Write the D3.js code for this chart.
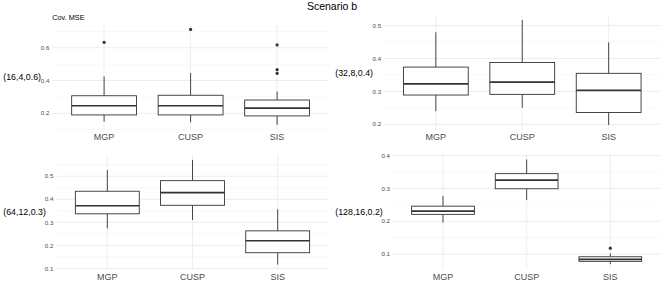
<!DOCTYPE html>
<html>
<head>
<meta charset="utf-8">
<script src="https://cdn.jsdelivr.net/npm/d3@7"></script>
<style>
  html, body { margin: 0; padding: 0; background: #ffffff; }
  svg { display: block; font-family: "Liberation Sans", Arial, Helvetica, sans-serif; }
</style>
</head>
<body>
<svg id="chart" width="664" height="291"></svg>
<script>
// ---------------- data ----------------
const chartTitle = "Scenario b";
const metricLabel = "Cov. MSE";
const methods = ["MGP", "CUSP", "SIS"];
const scenarios = ["(16,4,0.6)", "(32,8,0.4)", "(64,12,0.3)", "(128,16,0.2)"];

// per scenario, per method: [MGP, CUSP, SIS]
const whiskerLow  = [[0.149, 0.145, 0.129], [0.240, 0.250, 0.198], [0.274, 0.310, 0.117], [0.196, 0.265, 0.070]];
const quartile1   = [[0.190, 0.190, 0.184], [0.289, 0.291, 0.236], [0.337, 0.374, 0.168], [0.221, 0.299, 0.078]];
const medians     = [[0.246, 0.246, 0.232], [0.323, 0.328, 0.303], [0.372, 0.429, 0.220], [0.231, 0.325, 0.084]];
const quartile3   = [[0.307, 0.310, 0.281], [0.374, 0.388, 0.355], [0.435, 0.481, 0.263], [0.246, 0.345, 0.092]];
const whiskerHigh = [[0.425, 0.446, 0.332], [0.480, 0.517, 0.449], [0.527, 0.571, 0.357], [0.277, 0.388, 0.102]];
const outliers    = [
  [[0.633], [0.712], [0.617, 0.466, 0.444]],
  [[], [], []],
  [[], [], []],
  [[], [], [0.118]]
];
const yTicks = [[0.2, 0.4, 0.6], [0.2, 0.3, 0.4, 0.5], [0.1, 0.2, 0.3, 0.4, 0.5], [0.1, 0.2, 0.3, 0.4]];

// ---------------- layout (styling only) ----------------
const panels = [
  { left: 52.2,  right: 329.0, top: 24.6,  bottom: 129.7, labelX: 3.3,   catY: 140 },
  { left: 384.0, right: 660.5, top: 14.8,  bottom: 130.2, labelX: 335.3, catY: 140 },
  { left: 56.2,  right: 328.8, top: 154.7, bottom: 269.7, labelX: 3.3,   catY: 280 },
  { left: 392.8, right: 660.5, top: 154.3, bottom: 269.2, labelX: 335.3, catY: 280 }
];
const boxColor = "#333333";
const gridMajor = "#ebebeb";
const gridMinor = "#f4f4f4";
const textGrey = "#4d4d4d";

const svg = d3.select("#chart");

svg.append("text")
  .attr("x", 332).attr("y", 9.8)
  .attr("text-anchor", "middle")
  .attr("font-size", 10.5)
  .attr("fill", "#000")
  .text(chartTitle);

svg.append("text")
  .attr("x", 52.3).attr("y", 20.3)
  .attr("font-size", 7.3)
  .attr("fill", "#000")
  .text(metricLabel);

scenarios.forEach((scen, s) => {
  const p = panels[s];
  const g = svg.append("g");

  // y domain with 5% expansion, as in ggplot
  const allVals = [].concat(whiskerLow[s], whiskerHigh[s], ...outliers[s]);
  const lo = d3.min(allVals), hi = d3.max(allVals);
  const pad = (hi - lo) * 0.05;
  const y = d3.scaleLinear().domain([lo - pad, hi + pad]).range([p.bottom, p.top]);

  // discrete x with 0.6 expansion on each side
  const x = d3.scaleLinear().domain([0.4, methods.length + 0.6]).range([p.left, p.right]);
  const xc = i => x(i + 1);
  const unit = x(2) - x(1);
  const boxW = unit * 0.75;

  // minor grid
  const ticks = yTicks[s];
  const step = ticks[1] - ticks[0];
  const minor = [];
  for (let t = ticks[0] - step / 2; t <= hi + pad + 1e-9; t += step) {
    if (t >= lo - pad - 1e-9) minor.push(t);
  }
  g.selectAll(".minor").data(minor).enter().append("line")
    .attr("x1", p.left).attr("x2", p.right)
    .attr("y1", d => y(d)).attr("y2", d => y(d))
    .attr("stroke", gridMinor).attr("stroke-width", 0.6);

  // major grid (y)
  g.selectAll(".major").data(ticks).enter().append("line")
    .attr("x1", p.left).attr("x2", p.right)
    .attr("y1", d => y(d)).attr("y2", d => y(d))
    .attr("stroke", gridMajor).attr("stroke-width", 0.9);

  // major grid (x)
  g.selectAll(".vmajor").data(methods).enter().append("line")
    .attr("x1", (d, i) => xc(i)).attr("x2", (d, i) => xc(i))
    .attr("y1", p.top).attr("y2", p.bottom)
    .attr("stroke", gridMajor).attr("stroke-width", 0.9);

  // y tick labels
  g.selectAll(".ytl").data(ticks).enter().append("text")
    .attr("x", p.left - 2.8)
    .attr("y", d => y(d))
    .attr("dy", "0.35em")
    .attr("text-anchor", "end")
    .attr("font-size", 6.2)
    .attr("fill", textGrey)
    .text(d => d3.format(".1f")(d));

  // x category labels
  g.selectAll(".xtl").data(methods).enter().append("text")
    .attr("x", (d, i) => xc(i))
    .attr("y", p.catY)
    .attr("text-anchor", "middle")
    .attr("font-size", 9)
    .attr("fill", textGrey)
    .text(d => d);

  // row label
  g.append("text")
    .attr("x", p.labelX)
    .attr("y", (p.top + p.bottom) / 2)
    .attr("dy", "0.35em")
    .attr("font-size", 8.8)
    .attr("fill", "#000")
    .text(scen);

  // boxes
  methods.forEach((m, i) => {
    const cx = xc(i);
    g.append("line")
      .attr("x1", cx).attr("x2", cx)
      .attr("y1", y(whiskerLow[s][i])).attr("y2", y(quartile1[s][i]))
      .attr("stroke", boxColor).attr("stroke-width", 0.9);
    g.append("line")
      .attr("x1", cx).attr("x2", cx)
      .attr("y1", y(quartile3[s][i])).attr("y2", y(whiskerHigh[s][i]))
      .attr("stroke", boxColor).attr("stroke-width", 0.9);
    g.append("rect")
      .attr("x", cx - boxW / 2).attr("width", boxW)
      .attr("y", y(quartile3[s][i]))
      .attr("height", y(quartile1[s][i]) - y(quartile3[s][i]))
      .attr("fill", "#ffffff")
      .attr("stroke", boxColor).attr("stroke-width", 0.9);
    g.append("line")
      .attr("x1", cx - boxW / 2).attr("x2", cx + boxW / 2)
      .attr("y1", y(medians[s][i])).attr("y2", y(medians[s][i]))
      .attr("stroke", boxColor).attr("stroke-width", 1.7);
    g.selectAll(null).data(outliers[s][i]).enter().append("circle")
      .attr("cx", cx).attr("cy", d => y(d))
      .attr("r", 1.6)
      .attr("fill", boxColor);
  });
});
</script>
</body>
</html>
